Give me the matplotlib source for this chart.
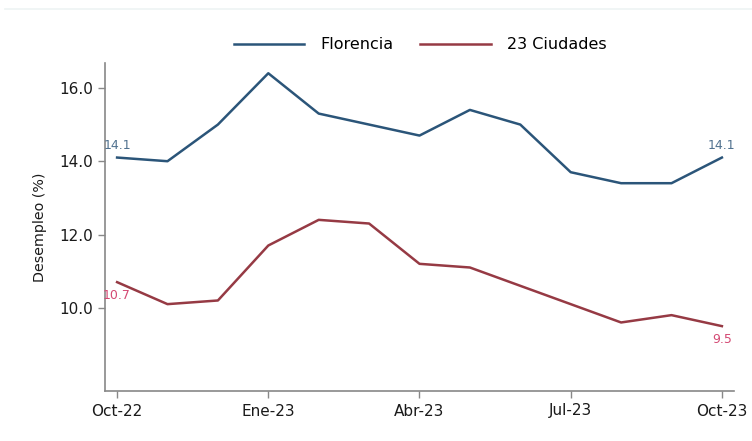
import matplotlib
matplotlib.use("Agg")
import matplotlib.pyplot as plt
from matplotlib.lines import Line2D

plt.rcParams['font.family'] = ['DejaVu Sans']

months = ["Oct-22", "Nov-22", "Dic-22", "Ene-23", "Feb-23", "Mar-23", "Abr-23",
          "May-23", "Jun-23", "Jul-23", "Ago-23", "Sep-23", "Oct-23"]
florencia = [14.1, 14.0, 15.0, 16.4, 15.3, 15.0, 14.7, 15.4, 15.0, 13.7, 13.4, 13.4, 14.1]
ciudades = [10.7, 10.1, 10.2, 11.7, 12.4, 12.3, 11.2, 11.1, 10.6, 10.1, 9.6, 9.8, 9.5]
xtick_labels = ["Oct-22", "Ene-23", "Abr-23", "Jul-23", "Oct-23"]
yticks = [10.0, 12.0, 14.0, 16.0]

blue = "#2b5579"
red = "#963a44"
blue_lbl = "#50718f"
red_lbl = "#d44a74"

fig = plt.figure(figsize=(7.52, 4.41), dpi=100)
fig.add_artist(Line2D([5/752, 1], [1 - 8.5/441, 1 - 8.5/441], color="#eef3f3", lw=1.2))
ax = fig.add_axes([105/752, 1 - 391/441, (734 - 105)/752, (391 - 63)/441])
x = list(range(len(months)))
ax.plot(x, florencia, color=blue, lw=1.8, label="Florencia")
ax.plot(x, ciudades, color=red, lw=1.8, label="23 Ciudades")

ax.set_xlim(-0.24, 12.24)
ax.set_ylim(7.73, 16.68)
ax.set_xticks([0, 3, 6, 9, 12])
ax.set_xticklabels(xtick_labels)
ax.set_yticks(yticks)
ax.set_yticklabels([f"{v:.1f}" for v in yticks])
ax.tick_params(axis='both', labelsize=11, colors="#888888", labelcolor="#1a1a1a",
               length=5, width=1)
ax.tick_params(axis='x', pad=4)
for s in ["top", "right"]:
    ax.spines[s].set_visible(False)
for s in ["left", "bottom"]:
    ax.spines[s].set_color("#888888")
    ax.spines[s].set_linewidth(1.2)
ax.set_ylabel("Desempleo (%)", fontsize=10.3, color="#1a1a1a", labelpad=9)

ax.annotate(f"{florencia[0]:.1f}", (x[0], florencia[0]), xytext=(0, 4),
            textcoords="offset points", ha="center", va="bottom", fontsize=9, color=blue_lbl)
ax.annotate(f"{florencia[-1]:.1f}", (x[-1], florencia[-1]), xytext=(0, 4),
            textcoords="offset points", ha="center", va="bottom", fontsize=9, color=blue_lbl)
ax.annotate(f"{ciudades[0]:.1f}", (x[0], ciudades[0]), xytext=(0, -5),
            textcoords="offset points", ha="center", va="top", fontsize=9, color=red_lbl)
ax.annotate(f"{ciudades[-1]:.1f}", (x[-1], ciudades[-1]), xytext=(0, -5),
            textcoords="offset points", ha="center", va="top", fontsize=9, color=red_lbl)

fig.legend(loc="center", bbox_to_anchor=(420/752, 0.898), ncol=2, frameon=False,
           fontsize=11.5, handlelength=4.4, columnspacing=1.7, handletextpad=1.0)

fig.savefig("out.png", dpi=100, facecolor="white")
